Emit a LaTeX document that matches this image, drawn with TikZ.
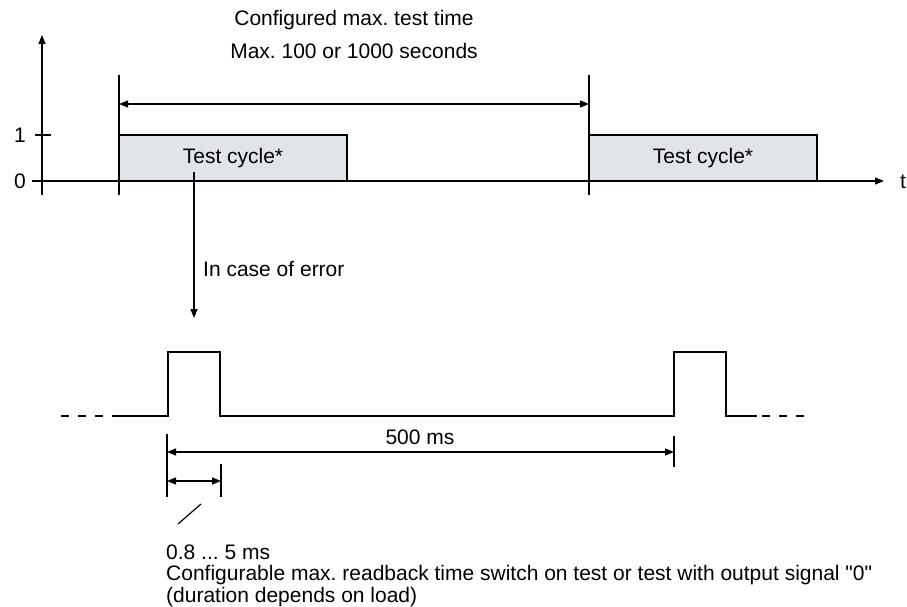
\documentclass[tikz,border=0pt]{standalone}
\usepackage{fontspec}
\setmainfont{Liberation Sans}
\newfontfamily\plainquote{Liberation Sans}
\usetikzlibrary{arrows.meta}
\definecolor{cyclefill}{HTML}{E1E5EA}
\tikzset{
  thin line/.style={line width=1.2pt, draw=black},
  signal/.style={line width=2.4pt, draw=black},
  tip/.style={-{Triangle[length=9pt,width=7pt]}},
  dtip/.style={{Triangle[length=9pt,width=7pt]}-{Triangle[length=9pt,width=7pt]}},
  lbl/.style={font=\fontsize{21}{24}\selectfont\frenchspacing, inner sep=0pt},
  cycle box/.style={draw=black, line width=2pt, fill=cyclefill, minimum width=228pt, minimum height=46pt, inner sep=0pt, font=\fontsize{21}{24}\selectfont},
}
\begin{document}
\begin{tikzpicture}[x=1pt,y=-1pt]
\useasboundingbox (0,0) rectangle (907,607);
% top axes
\coordinate (yb) at (42,195);
\coordinate (yt) at (42,35);
\coordinate (xl) at (32,181);
\coordinate (xr) at (884,181);
\draw[thin line, tip] (yb) -- (yt);
\draw[thin line, tip] (xl) -- (xr);
\node[lbl] (t) at (903,182) {t};
\coordinate (tk1) at (35,135);
\coordinate (tk2) at (51,135);
\draw[thin line] (tk1) -- (tk2);
\node[lbl] (one) at (20,135) {1};
\node[lbl] (zero) at (20,181) {0};
% verticals
\coordinate (v1t) at (119,75);
\coordinate (v1b) at (119,195);
\coordinate (v2t) at (589,75);
\coordinate (v2b) at (589,195);
\draw[thin line] (v1t) -- (v1b);
\draw[thin line] (v2t) -- (v2b);
\coordinate (d1) at (119,104);
\coordinate (d2) at (589,104);
\draw[thin line, dtip] (d1) -- (d2);
\node[lbl] (title1) at (354,20) {Configured max. test time};
\node[lbl] (title2) at (354,51) {Max. 100 or 1000 seconds};
% test cycles
\node[cycle box] (c1) at (233,158) {Test cycle*};
\node[cycle box] (c2) at (703,158) {Test cycle*};
% error arrow
\coordinate (e1) at (194,172);
\coordinate (e2) at (194,318);
\draw[thin line, tip] (e1) -- (e2);
\node[lbl, anchor=west] (err) at (203,269) {In case of error};
% bottom signal
\coordinate (s0) at (61,416);
\coordinate (s1) at (110,416);
\coordinate (s2) at (112,416);
\coordinate (s3) at (757,416);
\coordinate (s4) at (762,416);
\coordinate (s5) at (806,416);
\draw[signal, dash pattern=on 8pt off 9pt] (s0) -- (s1);
\draw[signal] (s2) -- (168,416) -- (168,352) -- (220,352) -- (220,416) -- (674,416) -- (674,352) -- (726,352) -- (726,416) -- (s3);
\draw[signal, dash pattern=on 8pt off 9pt] (s4) -- (s5);
% dimensions
\coordinate (k1t) at (167,434);
\coordinate (k1b) at (167,497);
\coordinate (k2t) at (674,436);
\coordinate (k2b) at (674,467);
\coordinate (k3t) at (221,464);
\coordinate (k3b) at (221,497);
\draw[thin line] (k1t) -- (k1b);
\draw[thin line] (k2t) -- (k2b);
\draw[thin line] (k3t) -- (k3b);
\coordinate (m1) at (167,452);
\coordinate (m2) at (674,452);
\draw[thin line, dtip] (m1) -- (m2);
\node[lbl] (ms500) at (420,437) {500 ms};
\coordinate (n1) at (167,481);
\coordinate (n2) at (221,481);
\draw[thin line, dtip] (n1) -- (n2);
\coordinate (sl1) at (201,504);
\coordinate (sl2) at (178,524);
\draw[thin line] (sl1) -- (sl2);
\node[lbl, anchor=west] (note1) at (166,552) {0.8 ... 5 ms};
\node[lbl, anchor=west] (note2) at (166,575) {Configurable max. readback time switch on test or test with output signal {\plainquote"0"}};
\node[lbl, anchor=west] (note3) at (166,597) {(duration depends on load)};
\end{tikzpicture}
\end{document}
